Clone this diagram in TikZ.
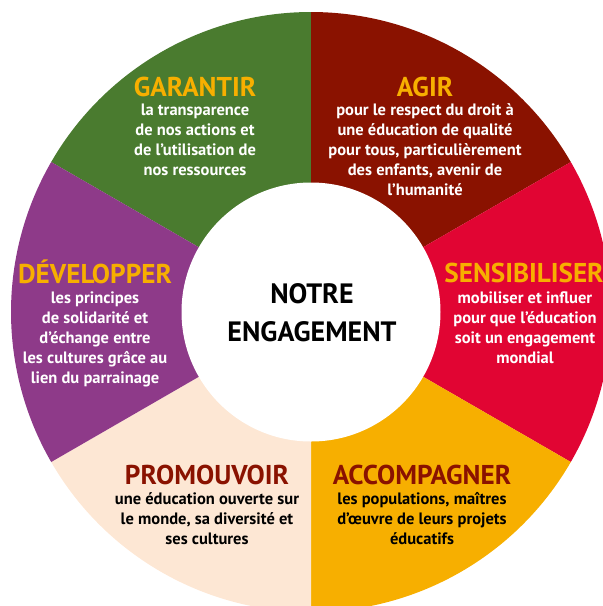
\documentclass[tikz,border=0pt]{standalone}
\usepackage{fontspec}
\setmainfont{PT Sans}
\definecolor{cGreen}{HTML}{4A7B2F}
\definecolor{cDarkRed}{HTML}{8A1200}
\definecolor{cCrimson}{HTML}{E10533}
\definecolor{cOrange}{HTML}{F7AF00}
\definecolor{cPeach}{HTML}{FDE7D4}
\definecolor{cPurple}{HTML}{8E3A89}
\tikzset{
  ttl/.style={anchor=base, inner sep=0pt, font=\bfseries\fontsize{27.2}{27}\selectfont},
  bdy/.style={anchor=base, inner sep=0pt, align=center, font=\bfseries\fontsize{16.5}{20}\selectfont},
  ctr/.style={anchor=base, inner sep=0pt, align=center, font=\bfseries\fontsize{28}{38}\selectfont, text=black},
}
\begin{document}
\begin{tikzpicture}[x=1pt,y=1pt]
\useasboundingbox (0,0) rectangle (603,-606);
\clip (0,0) rectangle (603,-606);
\coordinate (C) at (311,-312);
\fill[cGreen]   (C) -- ++(90:300)  arc[start angle=90,  end angle=150, radius=300] -- cycle;
\fill[cDarkRed] (C) -- ++(30:300)  arc[start angle=30,  end angle=90,  radius=300] -- cycle;
\fill[cCrimson] (C) -- ++(-30:300) arc[start angle=-30, end angle=30,  radius=300] -- cycle;
\fill[cOrange]  (C) -- ++(-90:300) arc[start angle=-90, end angle=-30, radius=300] -- cycle;
\fill[cPeach]   (C) -- ++(210:300) arc[start angle=210, end angle=270, radius=300] -- cycle;
\fill[cPurple]  (C) -- ++(150:300) arc[start angle=150, end angle=210, radius=300] -- cycle;
\fill[white] (C) circle[radius=129.5];

% anchor=base of a multi-line node sits on its last line's baseline
\node[ctr] (centre) at (312,-341) {NOTRE\\ENGAGEMENT};

\node[ttl, text=cOrange] (t1) at (195,-96) {GARANTIR};
\node[bdy, text=white] (b1) at (195,-175.5) {la transparence\\de nos actions et\\de l’utilisation de\\nos ressources};

\node[ttl, text=cOrange] (t2) at (425,-96) {AGIR};
\node[bdy, text=white] (b2) at (425,-195) {pour le respect du droit à\\une éducation de qualité\\pour tous, particulièrement\\des enfants, avenir de\\l’humanité};

\node[ttl, text=cOrange] (t3) at (524,-282) {SENSIBILISER};
\node[bdy, text=white] (b3) at (525,-363) {mobiliser et influer\\pour que l’éducation\\soit un engagement\\mondial};

\node[ttl, text=cOrange] (t4) at (95,-283) {DÉVELOPPER};
\node[bdy, text=white] (b4) at (95,-383) {les principes\\de solidarité et\\d’échange entre\\les cultures grâce au\\lien du parrainage};

\node[ttl, text=cDarkRed] (t5) at (207,-484) {PROMOUVOIR};
\node[bdy, text=black] (b5) at (207,-544) {une éducation ouverte sur\\le monde, sa diversité et\\ses cultures};

\node[ttl, text=cDarkRed] (t6) at (422,-484) {ACCOMPAGNER};
\node[bdy, text=black] (b6) at (422,-544) {les populations, maîtres\\d’œuvre de leurs projets\\éducatifs};
\end{tikzpicture}
\end{document}
